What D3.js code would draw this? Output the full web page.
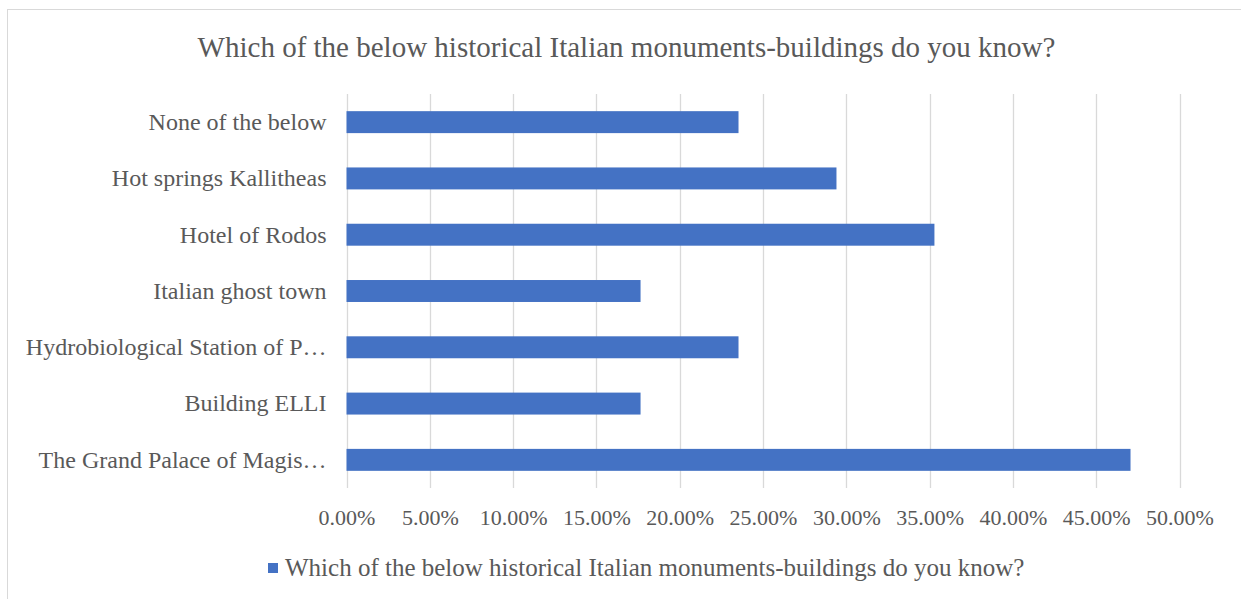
<!DOCTYPE html>
<html>
<head>
<meta charset="utf-8">
<script src="https://cdn.jsdelivr.net/npm/d3@7"></script>
<style>
  html, body { margin: 0; padding: 0; background: #fff; }
  svg { display: block; }
  text { font-family: "Liberation Serif", "Times New Roman", serif; fill: #595959; }
</style>
</head>
<body>
<svg id="chart" width="1241" height="599"></svg>
<script>
// Survey answers, listed top to bottom as shown on the chart
const categories = [
  "None of the below",
  "Hot springs Kallitheas",
  "Hotel of Rodos",
  "Italian ghost town",
  "Hydrobiological Station of P…",
  "Building ELLI",
  "The Grand Palace of Magis…"
];
const shares = [0.2353, 0.2941, 0.3529, 0.1765, 0.2353, 0.1765, 0.4706];
const tickValues = [0, 0.05, 0.10, 0.15, 0.20, 0.25, 0.30, 0.35, 0.40, 0.45, 0.50];
const seriesName = "Which of the below historical Italian monuments-buildings do you know?";
const chartTitle = "Which of the below historical Italian monuments-buildings do you know?";

const W = 1241, H = 599;
const plot = { left: 346.5, right: 1179.5, top: 94, bottom: 488 };
const barColor = "#4472C4";
const gridColor = "#d9d9d9";

const svg = d3.select("#chart");

// outer chart frame
svg.append("rect")
  .attr("x", 7.5).attr("y", 9.5)
  .attr("width", W + 10).attr("height", H + 10)
  .attr("fill", "#fff").attr("stroke", gridColor).attr("stroke-width", 1);

const x = d3.scaleLinear().domain([0, 0.5]).range([plot.left, plot.right]);
const y = d3.scaleBand().domain(categories).range([plot.top, plot.bottom])
  .paddingInner(0.61).paddingOuter(0.305);

// vertical gridlines
svg.append("g")
  .selectAll("line")
  .data(tickValues)
  .join("line")
  .attr("x1", d => Math.round(x(d)) + 0.5)
  .attr("x2", d => Math.round(x(d)) + 0.5)
  .attr("y1", plot.top)
  .attr("y2", plot.bottom)
  .attr("stroke", gridColor)
  .attr("stroke-width", 1.3);

// bars
svg.append("g")
  .selectAll("rect")
  .data(categories.map((c, i) => ({ c, v: shares[i] })))
  .join("rect")
  .attr("x", x(0))
  .attr("y", d => y(d.c))
  .attr("width", d => x(d.v) - x(0))
  .attr("height", y.bandwidth())
  .attr("fill", barColor);

// x axis tick labels
const xAxis = d3.axisBottom(x)
  .tickValues(tickValues)
  .tickFormat(d3.format(".2%"))
  .tickSize(0)
  .tickPadding(0);
const gx = svg.append("g")
  .attr("transform", `translate(0,${plot.bottom})`)
  .call(xAxis);
gx.select(".domain").remove();
gx.selectAll("text")
  .attr("y", 37)
  .attr("dy", null)
  .style("font-size", "22px")
  .style("font-family", '"Liberation Serif", serif')
  .attr("fill", "#595959");

// category labels
const yAxis = d3.axisLeft(y).tickSize(0).tickPadding(0);
const gy = svg.append("g")
  .attr("transform", `translate(${plot.left - 20},0)`)
  .call(yAxis);
gy.select(".domain").remove();
gy.selectAll("text")
  .attr("x", 0)
  .attr("dy", "0.33em")
  .style("font-size", "24px")
  .style("font-family", '"Liberation Serif", serif')
  .attr("fill", "#595959");

// title
svg.append("text")
  .attr("x", 626.5).attr("y", 57)
  .attr("text-anchor", "middle")
  .style("font-size", "29px")
  .text(chartTitle);

// legend
const legend = svg.append("g").attr("transform", "translate(268,563)");
legend.append("rect").attr("width", 10).attr("height", 10).attr("fill", barColor);
legend.append("text")
  .attr("x", 17).attr("y", 13)
  .style("font-size", "25px")
  .text(seriesName);
</script>
</body>
</html>
